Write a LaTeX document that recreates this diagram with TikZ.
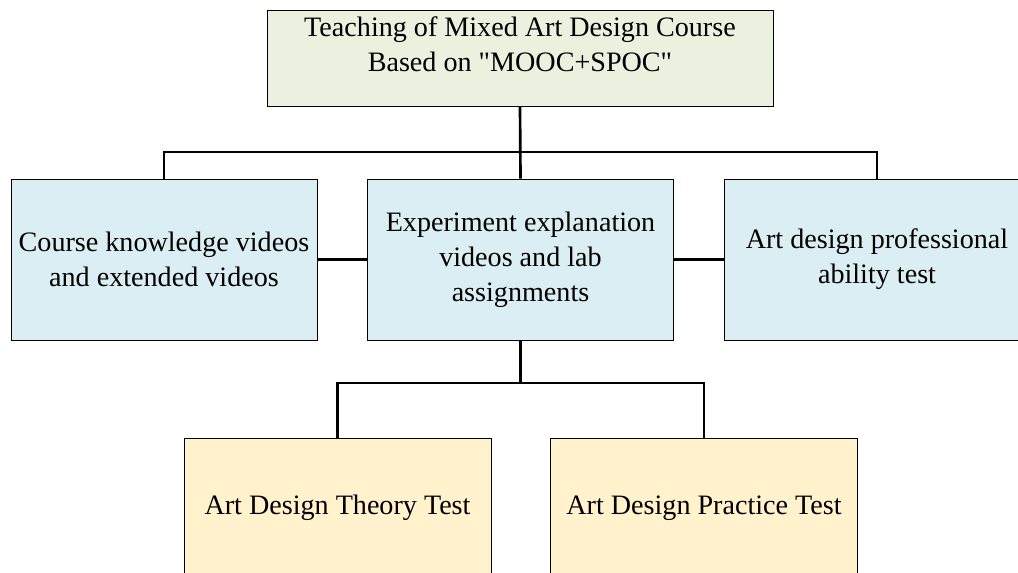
\documentclass[tikz,border=0pt]{standalone}
\usepackage{fontspec}
\setmainfont{Liberation Serif}
\definecolor{topfill}{HTML}{EBF1DE}
\definecolor{midfill}{HTML}{DAEEF3}
\definecolor{testfill}{HTML}{FFF2CC}
\begin{document}
\begin{tikzpicture}[x=0.025cm, y=-0.025cm,
    box/.style={draw=black, line width=0.7pt, align=center, inner sep=0pt,
      font=\fontsize{20}{25}\selectfont},
    topbox/.style={box, fill=topfill, minimum width=506*0.025cm, minimum height=96*0.025cm},
    midbox/.style={box, fill=midfill, minimum width=306*0.025cm, minimum height=161*0.025cm},
    testbox/.style={box, fill=testfill, minimum width=307*0.025cm, minimum height=140*0.025cm},
    link/.style={draw=black, line width=1.9pt}]
  \useasboundingbox (0,0) rectangle (1018,572);
  \clip (0,0) rectangle (1018,572);
  \node[topbox, text depth=19.5pt] (top) at (520,58)
    {Teaching of Mixed Art Design Course\\Based on \textquotedbl MOOC+SPOC\textquotedbl};
  \node[midbox] (videos) at (164,259.5) {Course knowledge videos\\and extended videos};
  \node[midbox] (expt) at (520.5,259.5) {Experiment explanation\\videos and lab\\assignments};
  \node[midbox] (ability) at (877,259.5) {Art design professional\\ability test};
  \node[testbox] (theory) at (337.5,508) {Art Design Theory Test};
  \node[testbox] (practice) at (704,508) {Art Design Practice Test};
  \coordinate (busA) at (520.5,152);
  \coordinate (busB) at (520.5,383);
  \begin{scope}[link]
    \draw (top.south) -- (expt.north);
    \draw (videos.north) |- (busA) -| (ability.north);
    \draw (videos.east) -- (expt.west);
    \draw (expt.east) -- (ability.west);
    \draw (expt.south) -- (busB);
    \draw (theory.north) |- (busB) -| (practice.north);
  \end{scope}
\end{tikzpicture}
\end{document}
